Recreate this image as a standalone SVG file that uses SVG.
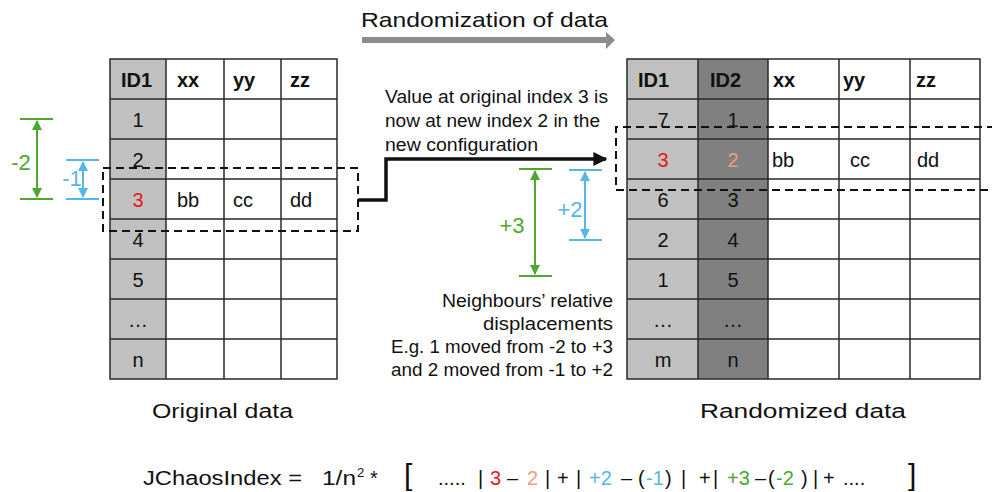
<svg xmlns="http://www.w3.org/2000/svg" width="992" height="492" viewBox="0 0 992 492">
  <style>
    text { font-family: "Liberation Sans", Arial, sans-serif; fill: #111; }
    .hdr { font-size: 20px; font-weight: bold; }
    .cell { font-size: 20px; }
    .mid { text-anchor: middle; }
    .grid { fill: none; stroke: #2a2a2a; stroke-width: 1.5; }
    .dash { fill: none; stroke: #111; stroke-width: 2; stroke-dasharray: 8 5; }
    .note { font-size: 17.5px; }
    .cap { font-size: 20px; }
    .dimg { stroke: #4ea72e; stroke-width: 2; fill: none; }
    .dimb { stroke: #56b6e6; stroke-width: 2; fill: none; }
    .lbl { font-size: 22px; text-anchor: middle; }
    .red { fill: #e8141c; }
    .peach { fill: #efa079; }
    .green { fill: #4ea72e; }
    .blue { fill: #56b6e6; }
    .f { font-size: 20px; }
    .br { font-size: 30px; }
  </style>
  <defs>
    <marker id="ag" viewBox="0 0 10 10" refX="9" refY="5" markerWidth="5" markerHeight="5" orient="auto-start-reverse">
      <path d="M0,0 L10,5 L0,10 z" fill="#4ea72e"/>
    </marker>
    <marker id="ab" viewBox="0 0 10 10" refX="9" refY="5" markerWidth="5" markerHeight="5" orient="auto-start-reverse">
      <path d="M0,0 L10,5 L0,10 z" fill="#56b6e6"/>
    </marker>
    <marker id="ak" viewBox="0 0 10 10" refX="9" refY="5" markerWidth="4" markerHeight="4" orient="auto">
      <path d="M0,0 L10,5 L0,10 z" fill="#111"/>
    </marker>
  </defs>

  <rect width="992" height="492" fill="#fff"/>

  <!-- heading with grey direction arrow -->
  <g id="heading">
    <text x="361" y="27" font-size="21" textLength="247" lengthAdjust="spacingAndGlyphs">Randomization of data</text>
    <path d="M362,37 H606 V32 L615,40 L606,49 V43 H362 z" fill="#8c8c8c"/>
  </g>

  <!-- original table -->
  <g id="original-table">
    <rect x="110" y="59" width="56" height="320" fill="#c0c0c0"/>
    <rect x="110" y="59" width="227" height="320" class="grid"/>
    <path class="grid" d="M166,59 V379 M224,59 V379 M281,59 V379 M110,99 H337 M110,139 H337 M110,179 H337 M110,219 H337 M110,259 H337 M110,299 H337 M110,339 H337"/>
    <text class="hdr" x="121" y="87">ID1</text>
    <text class="hdr" x="177" y="87">xx</text>
    <text class="hdr" x="233" y="87">yy</text>
    <text class="hdr" x="290" y="87">zz</text>
    <text class="cell mid" x="138" y="127">1</text>
    <text class="cell mid" x="138" y="167">2</text>
    <text class="cell mid red" x="138" y="207">3</text>
    <text class="cell mid" x="138" y="247">4</text>
    <text class="cell mid" x="138" y="287">5</text>
    <text class="cell mid" x="138" y="327">…</text>
    <text class="cell mid" x="138" y="367">n</text>
    <text class="cell" x="177" y="207">bb</text>
    <text class="cell" x="233" y="207">cc</text>
    <text class="cell" x="290" y="207">dd</text>
    <text class="cap" x="152" y="418" textLength="141" lengthAdjust="spacingAndGlyphs">Original data</text>
  </g>

  <!-- randomized table -->
  <g id="randomized-table">
    <rect x="627" y="59" width="71" height="320" fill="#c0c0c0"/>
    <rect x="698" y="59" width="70" height="320" fill="#808080"/>
    <rect x="627" y="59" width="353" height="320" class="grid"/>
    <path class="grid" d="M698,59 V379 M768,59 V379 M839,59 V379 M910,59 V379 M627,99 H980 M627,139 H980 M627,179 H980 M627,219 H980 M627,259 H980 M627,299 H980 M627,339 H980"/>
    <text class="hdr" x="638" y="87">ID1</text>
    <text class="hdr" x="710" y="87">ID2</text>
    <text class="hdr" x="773" y="87">xx</text>
    <text class="hdr" x="843" y="87">yy</text>
    <text class="hdr" x="916" y="87">zz</text>
    <text class="cell mid" x="663" y="127">7</text>
    <text class="cell mid" x="733" y="127">1</text>
    <text class="cell mid red" x="663" y="167">3</text>
    <text class="cell mid peach" x="733" y="167">2</text>
    <text class="cell mid" x="663" y="207">6</text>
    <text class="cell mid" x="733" y="207">3</text>
    <text class="cell mid" x="663" y="247">2</text>
    <text class="cell mid" x="733" y="247">4</text>
    <text class="cell mid" x="663" y="287">1</text>
    <text class="cell mid" x="733" y="287">5</text>
    <text class="cell mid" x="663" y="327">…</text>
    <text class="cell mid" x="733" y="327">…</text>
    <text class="cell mid" x="663" y="367">m</text>
    <text class="cell mid" x="733" y="367">n</text>
    <text class="cell" x="772" y="167">bb</text>
    <text class="cell" x="850" y="167">cc</text>
    <text class="cell" x="917" y="167">dd</text>
    <text class="cap" x="700" y="418" textLength="206" lengthAdjust="spacingAndGlyphs">Randomized  data</text>
  </g>

  <!-- selected rows -->
  <g id="selection-original">
    <rect class="dash" x="103" y="168" width="255" height="63"/>
  </g>
  <g id="selection-randomized">
    <path class="dash" d="M995,127 H616 V190 H995"/>
  </g>

  <!-- connectors -->
  <g id="connectors">
    <polyline points="358,200 386,200 386,159 606,159" fill="none" stroke="#111" stroke-width="3.5" marker-end="url(#ak)"/>
  </g>

  <!-- displacement markers -->
  <g id="disp-before">
    <path class="dimg" d="M20,119 H53 M20,199 H53"/>
    <line class="dimg" x1="37" y1="121" x2="37" y2="197" marker-start="url(#ag)" marker-end="url(#ag)"/>
    <text x="21" y="170" class="lbl green">-2</text>
    <path class="dimb" d="M66,160 H99 M66,199 H99"/>
    <line class="dimb" x1="83" y1="162" x2="83" y2="197" marker-start="url(#ab)" marker-end="url(#ab)"/>
    <text x="72" y="186" class="lbl blue">-1</text>
  </g>
  <g id="disp-after">
    <path class="dimg" d="M519,169 H552 M519,276 H552"/>
    <line class="dimg" x1="535" y1="171" x2="535" y2="274" marker-start="url(#ag)" marker-end="url(#ag)"/>
    <text x="512" y="233" class="lbl green">+3</text>
    <path class="dimb" d="M569,170 H602 M569,240 H602"/>
    <line class="dimb" x1="585" y1="172" x2="585" y2="238" marker-start="url(#ab)" marker-end="url(#ab)"/>
    <text x="570" y="217" class="lbl blue">+2</text>
  </g>

  <!-- notes -->
  <g id="note-move">
    <text class="note" x="385" y="103" textLength="223" lengthAdjust="spacingAndGlyphs">Value at original index 3 is</text>
    <text class="note" x="385" y="127" textLength="215" lengthAdjust="spacingAndGlyphs">now at new index 2 in the</text>
    <text class="note" x="385" y="151" textLength="153" lengthAdjust="spacingAndGlyphs">new configuration</text>
  </g>
  <g id="note-neighbours">
    <text class="note" x="442" y="307" textLength="171" lengthAdjust="spacingAndGlyphs">Neighbours’ relative</text>
    <text class="note" x="483" y="330" textLength="130" lengthAdjust="spacingAndGlyphs">displacements</text>
    <text class="note" x="391" y="353" textLength="222" lengthAdjust="spacingAndGlyphs">E.g. 1 moved from -2 to +3</text>
    <text class="note" x="391" y="376" textLength="222" lengthAdjust="spacingAndGlyphs">and 2 moved from -1 to +2</text>
  </g>

  <!-- index formula -->
  <g id="formula">
    <text class="f" x="143" y="485" textLength="159" lengthAdjust="spacingAndGlyphs">JChaosIndex =</text>
    <text class="f" y="485"><tspan x="322" textLength="34" lengthAdjust="spacingAndGlyphs">1/n</tspan><tspan x="357" font-size="13" dy="-8">2</tspan><tspan x="370" dy="8">*</tspan></text>
    <text class="br" x="404" y="485">[</text>
    <text class="f" y="485"><tspan x="438">.....</tspan><tspan x="478">|</tspan><tspan x="490" class="red">3</tspan><tspan x="507">–</tspan><tspan x="527" class="peach">2</tspan><tspan x="545">|</tspan><tspan x="557">+</tspan><tspan x="576">|</tspan><tspan x="589" class="blue">+2</tspan><tspan x="621">–</tspan><tspan x="638">(</tspan><tspan x="646" class="blue">-1</tspan><tspan x="665">)</tspan><tspan x="681">|</tspan><tspan x="699">+</tspan><tspan x="713">|</tspan><tspan x="727" class="green">+3</tspan><tspan x="755">–</tspan><tspan x="768">(</tspan><tspan x="776" class="green">-2</tspan><tspan x="801">)</tspan><tspan x="813">|</tspan><tspan x="823">+</tspan><tspan x="843">....</tspan></text>
    <text class="br" x="908" y="485">]</text>
  </g>
</svg>
